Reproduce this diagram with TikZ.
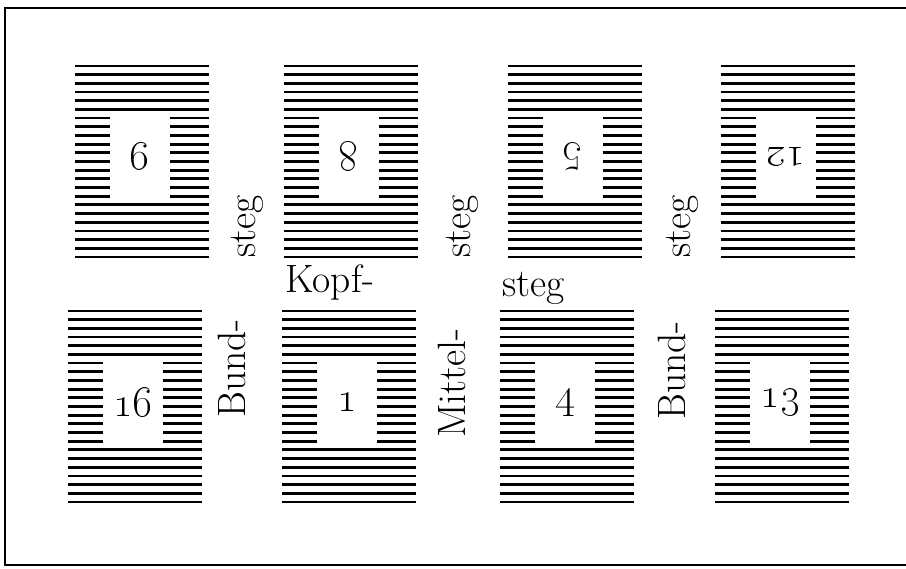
\documentclass[tikz,border=0pt]{standalone}
\usepackage{tikz}

\tikzset{
	zeile/.style={line width=1.6pt},
	ziffer/.style={font=\fontsize{24}{24}\selectfont, inner sep=0pt},
	beschriftung/.style={font=\fontsize{22.5}{22.5}\selectfont, inner sep=0pt},
}

% Satzspiegel: #1 = linker Rand, #2 = oberste Zeile
\newcommand{\satzspiegel}[2]{%
	\foreach \i in {0,...,5} \draw[zeile] (#1,#2-\i*0.1736) -- ++(2.68,0);
	\foreach \i in {16,...,22} \draw[zeile] (#1,#2-\i*0.1736) -- ++(2.68,0);
	\foreach \i in {6,...,15} {
		\draw[zeile] (#1,#2-\i*0.1736) -- ++(0.7,0);
		\draw[zeile] (#1+1.9,#2-\i*0.1736) -- ++(0.78,0);
	}
}

\begin{document}
\begin{tikzpicture}
		\useasboundingbox (0,0) rectangle (18.12,11.38);
		\draw[line width=1.2pt] (18.12,11.22) -- (0.1,11.22) -- (0.1,0.08) -- (18.12,0.08);
	% obere Reihe
		\satzspiegel{1.50}{10.06}
		\satzspiegel{5.68}{10.06}
		\satzspiegel{10.15}{10.06}
		\satzspiegel{14.42}{10.06}
		\node[ziffer, rotate=180] (p9) at (2.80,8.24) {\oldstylenums{9}};
		\node[ziffer, rotate=180] (p8) at (6.98,8.24) {\oldstylenums{8}};
		\node[ziffer, rotate=180] (p5) at (11.45,8.24) {\oldstylenums{5}};
		\node[ziffer, rotate=180] (p12) at (15.72,8.24) {\oldstylenums{12}};
	% untere Reihe
		\satzspiegel{1.36}{5.16}
		\satzspiegel{5.64}{5.16}
		\satzspiegel{10.00}{5.16}
		\satzspiegel{14.30}{5.16}
		\node[ziffer] (p16) at (2.66,3.34) {\oldstylenums{16}};
		\node[ziffer] (p1) at (6.94,3.34) {\oldstylenums{1}};
		\node[ziffer] (p4) at (11.30,3.34) {\oldstylenums{4}};
		\node[ziffer] (p13) at (15.60,3.34) {\oldstylenums{13}};
	% Stege
		\node[beschriftung, rotate=90, anchor=base west] (stegA) at (5.10,6.22) {steg};
		\node[beschriftung, rotate=90, anchor=base west] (stegB) at (9.40,6.22) {steg};
		\node[beschriftung, rotate=90, anchor=base west] (stegC) at (13.80,6.22) {steg};
		\node[beschriftung, anchor=base west] (kopf) at (5.70,5.52) {Kopf-};
		\node[beschriftung, anchor=base west] (steg) at (10.04,5.44) {steg};
		\node[beschriftung, rotate=90, anchor=base west] (bundA) at (4.90,3.02) {Bund-};
		\node[beschriftung, rotate=90, anchor=base west] (mittel) at (9.30,2.62) {Mittel-};
		\node[beschriftung, rotate=90, anchor=base west] (bundB) at (13.70,2.98) {Bund-};
	\end{tikzpicture}
\end{document}
